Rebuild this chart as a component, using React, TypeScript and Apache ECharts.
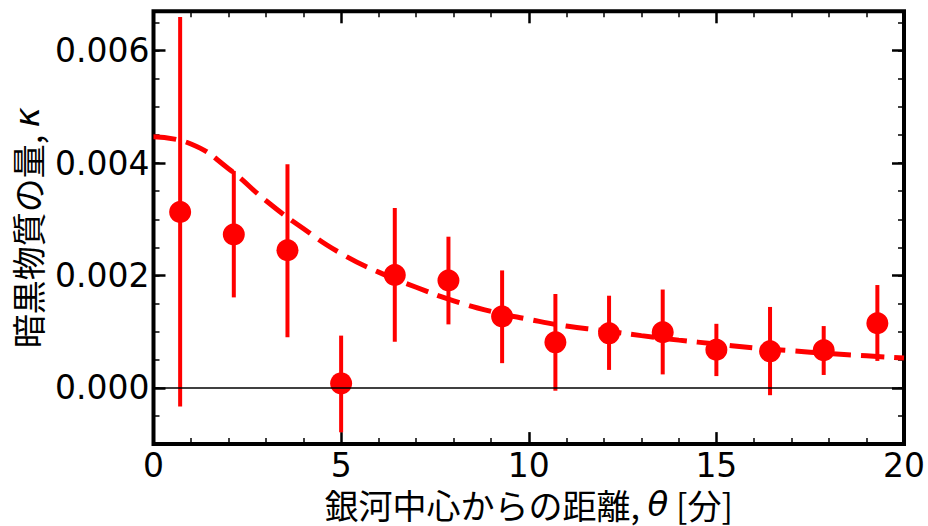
import React, { useEffect, useRef } from "react";
import * as echarts from "echarts";

// Binned measurements
const thetaBins = [0.71, 2.14, 3.57, 5.0, 6.43, 7.86, 9.29, 10.71, 12.14, 13.57, 15.0, 16.43, 17.86, 19.29];
const kappa = [0.00313, 0.00273, 0.00245, 0.00008, 0.00201, 0.00191, 0.00127, 0.00081, 0.00097, 0.00099, 0.00068, 0.00065, 0.00067, 0.00115];
const kappaLow = [-0.00033, 0.00161, 0.0009, -0.00079, 0.00082, 0.00113, 0.00044, -0.00005, 0.00032, 0.00024, 0.00021, -0.00013, 0.00023, 0.00048];
const kappaHigh = [0.0066, 0.00386, 0.00398, 0.00093, 0.0032, 0.00269, 0.00209, 0.00167, 0.00164, 0.00175, 0.00114, 0.00144, 0.0011, 0.00183];

// Model curve
const modelTheta = [0, 1, 2, 3, 4, 5, 6, 7, 8, 9, 10, 11, 12, 13, 14, 15, 16, 17, 18, 19, 20];
const modelKappa = [0.00447, 0.00434, 0.0039, 0.00333, 0.00283, 0.00239, 0.00206, 0.00179, 0.00155, 0.00136, 0.00122, 0.0011, 0.00102, 0.00093, 0.00085, 0.00078, 0.00071, 0.00066, 0.00061, 0.00057, 0.00053];

const xMin = 0;
const xMax = 20;
const xInterval = 5;
const yMin = -0.001;
const yMax = 0.0067;
const yMinorInterval = 0.0005;

const RED = "#ff0000";

export default function App() {
  const ref = useRef<HTMLDivElement>(null);

  useEffect(() => {
    if (!ref.current) return;
    const chart = echarts.init(ref.current, undefined, { renderer: "svg" });

    const points = thetaBins.map((x, i) => [x, kappa[i]]);
    const bars = thetaBins.map((x, i) => [x, kappaLow[i], kappaHigh[i]]);
    const model = modelTheta.map((x, i) => [x, modelKappa[i]]);

    const labelFont = { fontFamily: "DejaVu Sans", fontSize: 33, color: "#000" };
    const majorTick = { show: true, inside: true, length: 12, lineStyle: { color: "#000", width: 2.5 } };
    const minorTickStyle = { show: true, length: 6, lineStyle: { color: "#000", width: 1.5 } };

    const xBase = (pos: string, showLabel: boolean) => ({
      type: "value",
      position: pos,
      min: xMin,
      max: xMax,
      interval: xInterval,
      axisLine: { show: false, onZero: false },
      axisTick: majorTick,
      minorTick: { ...minorTickStyle, splitNumber: 5 },
      splitLine: { show: false },
      minorSplitLine: { show: false },
      axisLabel: { show: showLabel, margin: 5, ...labelFont },
    });

    const yMajor = (pos: string, showLabel: boolean) => ({
      type: "value",
      position: pos,
      min: yMin,
      max: yMax,
      splitNumber: 4,
      axisLine: { show: false, onZero: false },
      axisTick: majorTick,
      splitLine: { show: false },
      axisLabel: {
        show: showLabel,
        margin: 4,
        showMinLabel: false,
        showMaxLabel: false,
        formatter: (v: number) => v.toFixed(3),
        ...labelFont,
      },
    });

    const yMinor = (pos: string) => ({
      type: "value",
      position: pos,
      min: yMin,
      max: yMax,
      interval: yMinorInterval,
      axisLine: { show: false, onZero: false },
      axisTick: { show: true, inside: true, length: 6, lineStyle: { color: "#000", width: 1.5 } },
      splitLine: { show: false },
      axisLabel: { show: false },
    });

    const nameStyle = {
      fontFamily: "Noto Sans CJK JP",
      fontSize: 34,
      color: "#000",
      rich: { i: { fontFamily: "DejaVu Sans", fontStyle: "italic", fontSize: 34, color: "#000" } },
    };

    const x0: any = xBase("bottom", true);
    x0.name = "銀河中心からの距離, {i|θ} [分]";
    x0.nameLocation = "middle";
    x0.nameGap = 42;
    x0.nameTextStyle = nameStyle;

    const y0: any = yMajor("left", true);
    y0.name = "暗黒物質の量, {i|κ}";
    y0.nameLocation = "middle";
    y0.nameGap = 104;
    y0.nameTextStyle = nameStyle;

    chart.setOption({
      animation: false,
      backgroundColor: "#fff",
      grid: {
        left: 153.5,
        right: 23.3,
        top: 11.3,
        bottom: 77.3,
        show: true,
        borderColor: "#000",
        borderWidth: 4,
        backgroundColor: "transparent",
      },
      xAxis: [x0, xBase("top", false)],
      yAxis: [y0, yMinor("left"), yMajor("right", false), yMinor("right")],
      series: [
        {
          type: "line",
          data: model,
          xAxisIndex: 0,
          yAxisIndex: 0,
          smooth: true,
          showSymbol: false,
          symbol: "none",
          z: 2,
          lineStyle: { color: RED, width: 5, type: [23, 10] },
          markLine: {
            silent: true,
            symbol: ["none", "none"],
            label: { show: false },
            lineStyle: { color: "#000", width: 1.5, type: "solid" },
            data: [{ yAxis: 0 }],
          },
        },
        {
          type: "custom",
          xAxisIndex: 0,
          yAxisIndex: 0,
          z: 3,
          data: bars,
          encode: { x: 0, y: [1, 2] },
          renderItem: (_params: any, api: any) => {
            const x = api.value(0);
            const p1 = api.coord([x, api.value(1)]);
            const p2 = api.coord([x, api.value(2)]);
            return {
              type: "line",
              shape: { x1: p1[0], y1: p1[1], x2: p2[0], y2: p2[1] },
              style: { stroke: RED, lineWidth: 4 },
            };
          },
        },
        {
          type: "scatter",
          xAxisIndex: 0,
          yAxisIndex: 0,
          z: 4,
          data: points,
          symbol: "circle",
          symbolSize: 22,
          itemStyle: { color: RED, opacity: 1 },
        },
      ],
    });

    return () => chart.dispose();
  }, []);

  return (
    <div
      ref={ref}
      style={{ position: "fixed", left: 0, top: 0, width: 928, height: 526, background: "#fff" }}
    />
  );
}
